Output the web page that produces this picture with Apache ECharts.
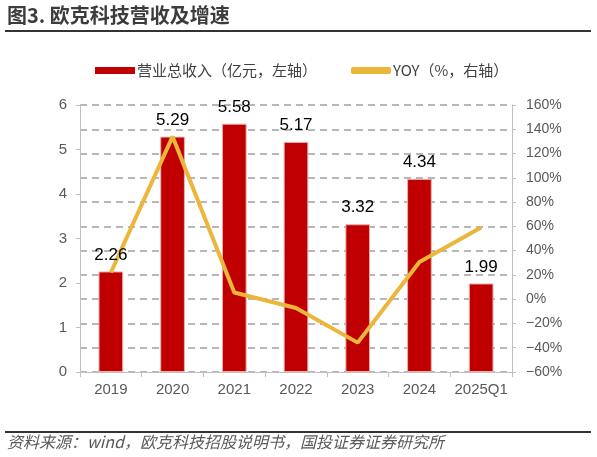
<!DOCTYPE html>
<html>
<head>
<meta charset="utf-8">
<script src="https://cdn.jsdelivr.net/npm/echarts@6/dist/echarts.min.js"></script>
<style>
html,body{margin:0;padding:0;background:#fff;}
#c{width:597px;height:457px;}
</style>
</head>
<body>
<div id="c"></div>
<script>
var categories = ['2019','2020','2021','2022','2023','2024','2025Q1'];
var revenue = [2.26, 5.29, 5.58, 5.17, 3.32, 4.34, 1.99];
var yoy = [22, 134, 5.5, -7.3, -35.8, 30.7, 59];
var leftTicks = {min: 0, max: 6, interval: 1};
var rightTicks = {min: -60, max: 160, interval: 20};
var titleText = '图3. 欧克科技营收及增速';
var sourceText = '资料来源：wind，欧克科技招股说明书，国投证券证券研究所';
var seriesNames = ['营业总收入（亿元，左轴）', 'YOY（%，右轴）'];

var chart = echarts.init(document.getElementById('c'), null, {renderer: 'canvas'});
var cjk = '"Noto Sans CJK SC", sans-serif';
var lat = '"Liberation Sans", Arial, sans-serif';
chart.setOption({
  animation: false,
  backgroundColor: '#fff',
  grid: {left: 80, right: 85, top: 105, bottom: 85},
  legend: {
    left: 90, top: 58,
    itemWidth: 40, itemHeight: 7, itemGap: 34,
    textStyle: {fontFamily: cjk, fontSize: 15, color: '#404040', padding: [0,0,0,-3]},
    itemStyle: {borderWidth: 0},
    data: [
      {name: seriesNames[0], icon: 'rect'},
      {name: seriesNames[1], icon: 'roundRect', itemStyle: {color: '#EBB63A', borderWidth: 0}}
    ]
  },
  graphic: [
    {type: 'text', left: 7, top: 5, style: {text: titleText, font: 'bold 20px ' + cjk, fill: '#3c3c3c'}},
    {type: 'rect', shape: {x: 5, y: 30, width: 586, height: 2}, style: {fill: '#333'}},
    {type: 'rect', shape: {x: 5, y: 431, width: 586, height: 2}, style: {fill: '#333'}},
    {type: 'text', left: 7, top: 434, style: {text: sourceText, font: 'italic 16px ' + cjk, fill: '#595959'}}
  ],
  xAxis: {
    type: 'category',
    data: categories,
    axisLine: {lineStyle: {color: '#BFBFBF', width: 1}},
    axisTick: {show: true, length: 5, lineStyle: {color: '#BFBFBF'}},
    axisLabel: {interval: 0, fontFamily: lat, fontSize: 15, color: '#595959', margin: 10}
  },
  yAxis: [
    {
      type: 'value', min: leftTicks.min, max: leftTicks.max, interval: leftTicks.interval,
      axisLine: {show: true, lineStyle: {color: '#BFBFBF'}},
      axisTick: {show: true, length: 4, lineStyle: {color: '#BFBFBF'}},
      splitLine: {show: false},
      axisLabel: {fontFamily: lat, fontSize: 15, color: '#595959', margin: 13}
    },
    {
      type: 'value', min: rightTicks.min, max: rightTicks.max, interval: rightTicks.interval,
      position: 'right',
      axisLine: {show: true, lineStyle: {color: '#BFBFBF'}},
      axisTick: {show: true, length: 4, lineStyle: {color: '#BFBFBF'}},
      splitLine: {show: true, lineStyle: {color: '#A0A0A0', type: [7, 5], width: 1.5}},
      axisLabel: {fontFamily: lat, fontSize: 14, color: '#595959', margin: 14,
        formatter: function (v) { return String(v).replace('-', '\u2212') + '%'; }}
    }
  ],
  series: [
    {
      name: seriesNames[0], type: 'bar', yAxisIndex: 0, data: revenue,
      barWidth: '40%', z: 2,
      itemStyle: {color: '#C00000', borderColor: '#E9AFAF', borderWidth: 1}
    },
    {
      name: seriesNames[1], type: 'line', yAxisIndex: 1, data: yoy,
      symbol: 'none', z: 3,
      lineStyle: {color: '#EBB63A', width: 4},
      itemStyle: {color: '#EBB63A'}
    },
    {
      name: 'labels', type: 'bar', yAxisIndex: 0, data: revenue,
      barWidth: '40%', barGap: '-100%', z: 5, silent: true,
      itemStyle: {color: 'rgba(0,0,0,0)'},
      label: {show: true, position: 'top', distance: 8, fontFamily: lat, fontSize: 17, color: '#000'}
    }
  ]
});
</script>
</body>
</html>
